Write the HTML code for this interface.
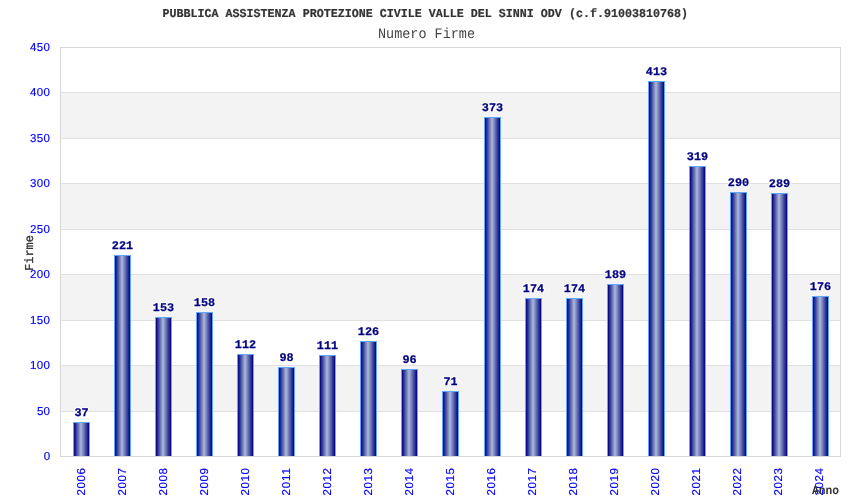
<!DOCTYPE html>
<html><head><meta charset="utf-8">
<style>
html,body{margin:0;padding:0;background:#fff;width:850px;height:500px;overflow:hidden}
svg{display:block;will-change:transform}
text{text-rendering:geometricPrecision}
.mono{font-family:"Liberation Mono",monospace}
.sans{font-family:"Liberation Sans",sans-serif}
</style></head><body>
<svg width="850" height="500" viewBox="0 0 850 500">
<defs>
<linearGradient id="g" x1="0" x2="1" y1="0" y2="0">
<stop offset="0" stop-color="#000080"/>
<stop offset="0.44" stop-color="#a0b0d2"/>
<stop offset="0.50" stop-color="#a0b0d2"/>
<stop offset="1" stop-color="#000080"/>
</linearGradient>
</defs>
<rect x="0" y="0" width="850" height="500" fill="#fff"/>

<rect x="61" y="93" width="779" height="45" fill="#f3f3f3"/>
<rect x="61" y="184" width="779" height="45" fill="#f3f3f3"/>
<rect x="61" y="275" width="779" height="45" fill="#f3f3f3"/>
<rect x="61" y="366" width="779" height="45" fill="#f3f3f3"/>
<rect x="61" y="92" width="779" height="1" fill="#e0e0e0"/>
<rect x="61" y="138" width="779" height="1" fill="#e0e0e0"/>
<rect x="61" y="183" width="779" height="1" fill="#e0e0e0"/>
<rect x="61" y="229" width="779" height="1" fill="#e0e0e0"/>
<rect x="61" y="274" width="779" height="1" fill="#e0e0e0"/>
<rect x="61" y="320" width="779" height="1" fill="#e0e0e0"/>
<rect x="61" y="365" width="779" height="1" fill="#e0e0e0"/>
<rect x="61" y="411" width="779" height="1" fill="#e0e0e0"/>
<rect x="60" y="47" width="781" height="1" fill="#d8d8d8"/>
<rect x="60" y="456" width="781" height="1" fill="#d8d8d8"/>
<rect x="60" y="47" width="1" height="410" fill="#d8d8d8"/>
<rect x="840" y="47" width="1" height="410" fill="#d8d8d8"/>
<text x="30.1" y="51" textLength="19.799999999999997" lengthAdjust="spacing" class="sans" font-size="11.5" fill="#0000ff" stroke="#0000ff" stroke-width="0.15">450</text>
<text x="30.1" y="96" textLength="19.799999999999997" lengthAdjust="spacing" class="sans" font-size="11.5" fill="#0000ff" stroke="#0000ff" stroke-width="0.15">400</text>
<text x="30.1" y="142" textLength="19.799999999999997" lengthAdjust="spacing" class="sans" font-size="11.5" fill="#0000ff" stroke="#0000ff" stroke-width="0.15">350</text>
<text x="30.1" y="187" textLength="19.799999999999997" lengthAdjust="spacing" class="sans" font-size="11.5" fill="#0000ff" stroke="#0000ff" stroke-width="0.15">300</text>
<text x="30.1" y="233" textLength="19.799999999999997" lengthAdjust="spacing" class="sans" font-size="11.5" fill="#0000ff" stroke="#0000ff" stroke-width="0.15">250</text>
<text x="30.1" y="278" textLength="19.799999999999997" lengthAdjust="spacing" class="sans" font-size="11.5" fill="#0000ff" stroke="#0000ff" stroke-width="0.15">200</text>
<text x="30.1" y="324" textLength="19.799999999999997" lengthAdjust="spacing" class="sans" font-size="11.5" fill="#0000ff" stroke="#0000ff" stroke-width="0.15">150</text>
<text x="30.1" y="369" textLength="19.799999999999997" lengthAdjust="spacing" class="sans" font-size="11.5" fill="#0000ff" stroke="#0000ff" stroke-width="0.15">100</text>
<text x="36.9" y="415" textLength="13.0" lengthAdjust="spacing" class="sans" font-size="11.5" fill="#0000ff" stroke="#0000ff" stroke-width="0.15">50</text>
<text x="43.7" y="460" textLength="6.2" lengthAdjust="spacing" class="sans" font-size="11.5" fill="#0000ff" stroke="#0000ff" stroke-width="0.15">0</text>
<rect x="73" y="422" width="17" height="34" fill="#5fa8ff"/>
<rect x="74" y="423" width="15" height="33" fill="url(#g)"/>
<text transform="translate(81.5,416) scale(1.02,1)" text-anchor="middle" class="mono" font-weight="bold" font-size="11.6" fill="#fff" stroke="#fff" stroke-width="2.2" stroke-linejoin="round">37</text>
<text transform="translate(81.5,416) scale(1.02,1)" text-anchor="middle" class="mono" font-weight="bold" font-size="11.6" fill="#000080" stroke="#000080" stroke-width="0.25">37</text>
<text transform="translate(85,495.5) rotate(-90)" textLength="27.5" lengthAdjust="spacing" class="sans" font-size="11.5" fill="#0000ff" stroke="#0000ff" stroke-width="0.15">2006</text>
<rect x="114" y="255" width="17" height="201" fill="#5fa8ff"/>
<rect x="115" y="256" width="15" height="200" fill="url(#g)"/>
<text transform="translate(122.5,249) scale(1.02,1)" text-anchor="middle" class="mono" font-weight="bold" font-size="11.6" fill="#fff" stroke="#fff" stroke-width="2.2" stroke-linejoin="round">221</text>
<text transform="translate(122.5,249) scale(1.02,1)" text-anchor="middle" class="mono" font-weight="bold" font-size="11.6" fill="#000080" stroke="#000080" stroke-width="0.25">221</text>
<text transform="translate(126,495.5) rotate(-90)" textLength="27.5" lengthAdjust="spacing" class="sans" font-size="11.5" fill="#0000ff" stroke="#0000ff" stroke-width="0.15">2007</text>
<rect x="155" y="317" width="17" height="139" fill="#5fa8ff"/>
<rect x="156" y="318" width="15" height="138" fill="url(#g)"/>
<text transform="translate(163.5,311) scale(1.02,1)" text-anchor="middle" class="mono" font-weight="bold" font-size="11.6" fill="#fff" stroke="#fff" stroke-width="2.2" stroke-linejoin="round">153</text>
<text transform="translate(163.5,311) scale(1.02,1)" text-anchor="middle" class="mono" font-weight="bold" font-size="11.6" fill="#000080" stroke="#000080" stroke-width="0.25">153</text>
<text transform="translate(167,495.5) rotate(-90)" textLength="27.5" lengthAdjust="spacing" class="sans" font-size="11.5" fill="#0000ff" stroke="#0000ff" stroke-width="0.15">2008</text>
<rect x="196" y="312" width="17" height="144" fill="#5fa8ff"/>
<rect x="197" y="313" width="15" height="143" fill="url(#g)"/>
<text transform="translate(204.5,306) scale(1.02,1)" text-anchor="middle" class="mono" font-weight="bold" font-size="11.6" fill="#fff" stroke="#fff" stroke-width="2.2" stroke-linejoin="round">158</text>
<text transform="translate(204.5,306) scale(1.02,1)" text-anchor="middle" class="mono" font-weight="bold" font-size="11.6" fill="#000080" stroke="#000080" stroke-width="0.25">158</text>
<text transform="translate(208,495.5) rotate(-90)" textLength="27.5" lengthAdjust="spacing" class="sans" font-size="11.5" fill="#0000ff" stroke="#0000ff" stroke-width="0.15">2009</text>
<rect x="237" y="354" width="17" height="102" fill="#5fa8ff"/>
<rect x="238" y="355" width="15" height="101" fill="url(#g)"/>
<text transform="translate(245.5,348) scale(1.02,1)" text-anchor="middle" class="mono" font-weight="bold" font-size="11.6" fill="#fff" stroke="#fff" stroke-width="2.2" stroke-linejoin="round">112</text>
<text transform="translate(245.5,348) scale(1.02,1)" text-anchor="middle" class="mono" font-weight="bold" font-size="11.6" fill="#000080" stroke="#000080" stroke-width="0.25">112</text>
<text transform="translate(249,495.5) rotate(-90)" textLength="27.5" lengthAdjust="spacing" class="sans" font-size="11.5" fill="#0000ff" stroke="#0000ff" stroke-width="0.15">2010</text>
<rect x="278" y="367" width="17" height="89" fill="#5fa8ff"/>
<rect x="279" y="368" width="15" height="88" fill="url(#g)"/>
<text transform="translate(286.5,361) scale(1.02,1)" text-anchor="middle" class="mono" font-weight="bold" font-size="11.6" fill="#fff" stroke="#fff" stroke-width="2.2" stroke-linejoin="round">98</text>
<text transform="translate(286.5,361) scale(1.02,1)" text-anchor="middle" class="mono" font-weight="bold" font-size="11.6" fill="#000080" stroke="#000080" stroke-width="0.25">98</text>
<text transform="translate(290,495.5) rotate(-90)" textLength="27.5" lengthAdjust="spacing" class="sans" font-size="11.5" fill="#0000ff" stroke="#0000ff" stroke-width="0.15">2011</text>
<rect x="319" y="355" width="17" height="101" fill="#5fa8ff"/>
<rect x="320" y="356" width="15" height="100" fill="url(#g)"/>
<text transform="translate(327.5,349) scale(1.02,1)" text-anchor="middle" class="mono" font-weight="bold" font-size="11.6" fill="#fff" stroke="#fff" stroke-width="2.2" stroke-linejoin="round">111</text>
<text transform="translate(327.5,349) scale(1.02,1)" text-anchor="middle" class="mono" font-weight="bold" font-size="11.6" fill="#000080" stroke="#000080" stroke-width="0.25">111</text>
<text transform="translate(331,495.5) rotate(-90)" textLength="27.5" lengthAdjust="spacing" class="sans" font-size="11.5" fill="#0000ff" stroke="#0000ff" stroke-width="0.15">2012</text>
<rect x="360" y="341" width="17" height="115" fill="#5fa8ff"/>
<rect x="361" y="342" width="15" height="114" fill="url(#g)"/>
<text transform="translate(368.5,335) scale(1.02,1)" text-anchor="middle" class="mono" font-weight="bold" font-size="11.6" fill="#fff" stroke="#fff" stroke-width="2.2" stroke-linejoin="round">126</text>
<text transform="translate(368.5,335) scale(1.02,1)" text-anchor="middle" class="mono" font-weight="bold" font-size="11.6" fill="#000080" stroke="#000080" stroke-width="0.25">126</text>
<text transform="translate(372,495.5) rotate(-90)" textLength="27.5" lengthAdjust="spacing" class="sans" font-size="11.5" fill="#0000ff" stroke="#0000ff" stroke-width="0.15">2013</text>
<rect x="401" y="369" width="17" height="87" fill="#5fa8ff"/>
<rect x="402" y="370" width="15" height="86" fill="url(#g)"/>
<text transform="translate(409.5,363) scale(1.02,1)" text-anchor="middle" class="mono" font-weight="bold" font-size="11.6" fill="#fff" stroke="#fff" stroke-width="2.2" stroke-linejoin="round">96</text>
<text transform="translate(409.5,363) scale(1.02,1)" text-anchor="middle" class="mono" font-weight="bold" font-size="11.6" fill="#000080" stroke="#000080" stroke-width="0.25">96</text>
<text transform="translate(413,495.5) rotate(-90)" textLength="27.5" lengthAdjust="spacing" class="sans" font-size="11.5" fill="#0000ff" stroke="#0000ff" stroke-width="0.15">2014</text>
<rect x="442" y="391" width="17" height="65" fill="#5fa8ff"/>
<rect x="443" y="392" width="15" height="64" fill="url(#g)"/>
<text transform="translate(450.5,385) scale(1.02,1)" text-anchor="middle" class="mono" font-weight="bold" font-size="11.6" fill="#fff" stroke="#fff" stroke-width="2.2" stroke-linejoin="round">71</text>
<text transform="translate(450.5,385) scale(1.02,1)" text-anchor="middle" class="mono" font-weight="bold" font-size="11.6" fill="#000080" stroke="#000080" stroke-width="0.25">71</text>
<text transform="translate(454,495.5) rotate(-90)" textLength="27.5" lengthAdjust="spacing" class="sans" font-size="11.5" fill="#0000ff" stroke="#0000ff" stroke-width="0.15">2015</text>
<rect x="484" y="117" width="17" height="339" fill="#5fa8ff"/>
<rect x="485" y="118" width="15" height="338" fill="url(#g)"/>
<text transform="translate(492.5,111) scale(1.02,1)" text-anchor="middle" class="mono" font-weight="bold" font-size="11.6" fill="#fff" stroke="#fff" stroke-width="2.2" stroke-linejoin="round">373</text>
<text transform="translate(492.5,111) scale(1.02,1)" text-anchor="middle" class="mono" font-weight="bold" font-size="11.6" fill="#000080" stroke="#000080" stroke-width="0.25">373</text>
<text transform="translate(495,495.5) rotate(-90)" textLength="27.5" lengthAdjust="spacing" class="sans" font-size="11.5" fill="#0000ff" stroke="#0000ff" stroke-width="0.15">2016</text>
<rect x="525" y="298" width="17" height="158" fill="#5fa8ff"/>
<rect x="526" y="299" width="15" height="157" fill="url(#g)"/>
<text transform="translate(533.5,292) scale(1.02,1)" text-anchor="middle" class="mono" font-weight="bold" font-size="11.6" fill="#fff" stroke="#fff" stroke-width="2.2" stroke-linejoin="round">174</text>
<text transform="translate(533.5,292) scale(1.02,1)" text-anchor="middle" class="mono" font-weight="bold" font-size="11.6" fill="#000080" stroke="#000080" stroke-width="0.25">174</text>
<text transform="translate(536,495.5) rotate(-90)" textLength="27.5" lengthAdjust="spacing" class="sans" font-size="11.5" fill="#0000ff" stroke="#0000ff" stroke-width="0.15">2017</text>
<rect x="566" y="298" width="17" height="158" fill="#5fa8ff"/>
<rect x="567" y="299" width="15" height="157" fill="url(#g)"/>
<text transform="translate(574.5,292) scale(1.02,1)" text-anchor="middle" class="mono" font-weight="bold" font-size="11.6" fill="#fff" stroke="#fff" stroke-width="2.2" stroke-linejoin="round">174</text>
<text transform="translate(574.5,292) scale(1.02,1)" text-anchor="middle" class="mono" font-weight="bold" font-size="11.6" fill="#000080" stroke="#000080" stroke-width="0.25">174</text>
<text transform="translate(577,495.5) rotate(-90)" textLength="27.5" lengthAdjust="spacing" class="sans" font-size="11.5" fill="#0000ff" stroke="#0000ff" stroke-width="0.15">2018</text>
<rect x="607" y="284" width="17" height="172" fill="#5fa8ff"/>
<rect x="608" y="285" width="15" height="171" fill="url(#g)"/>
<text transform="translate(615.5,278) scale(1.02,1)" text-anchor="middle" class="mono" font-weight="bold" font-size="11.6" fill="#fff" stroke="#fff" stroke-width="2.2" stroke-linejoin="round">189</text>
<text transform="translate(615.5,278) scale(1.02,1)" text-anchor="middle" class="mono" font-weight="bold" font-size="11.6" fill="#000080" stroke="#000080" stroke-width="0.25">189</text>
<text transform="translate(618,495.5) rotate(-90)" textLength="27.5" lengthAdjust="spacing" class="sans" font-size="11.5" fill="#0000ff" stroke="#0000ff" stroke-width="0.15">2019</text>
<rect x="648" y="81" width="17" height="375" fill="#5fa8ff"/>
<rect x="649" y="82" width="15" height="374" fill="url(#g)"/>
<text transform="translate(656.5,75) scale(1.02,1)" text-anchor="middle" class="mono" font-weight="bold" font-size="11.6" fill="#fff" stroke="#fff" stroke-width="2.2" stroke-linejoin="round">413</text>
<text transform="translate(656.5,75) scale(1.02,1)" text-anchor="middle" class="mono" font-weight="bold" font-size="11.6" fill="#000080" stroke="#000080" stroke-width="0.25">413</text>
<text transform="translate(659,495.5) rotate(-90)" textLength="27.5" lengthAdjust="spacing" class="sans" font-size="11.5" fill="#0000ff" stroke="#0000ff" stroke-width="0.15">2020</text>
<rect x="689" y="166" width="17" height="290" fill="#5fa8ff"/>
<rect x="690" y="167" width="15" height="289" fill="url(#g)"/>
<text transform="translate(697.5,160) scale(1.02,1)" text-anchor="middle" class="mono" font-weight="bold" font-size="11.6" fill="#fff" stroke="#fff" stroke-width="2.2" stroke-linejoin="round">319</text>
<text transform="translate(697.5,160) scale(1.02,1)" text-anchor="middle" class="mono" font-weight="bold" font-size="11.6" fill="#000080" stroke="#000080" stroke-width="0.25">319</text>
<text transform="translate(700,495.5) rotate(-90)" textLength="27.5" lengthAdjust="spacing" class="sans" font-size="11.5" fill="#0000ff" stroke="#0000ff" stroke-width="0.15">2021</text>
<rect x="730" y="192" width="17" height="264" fill="#5fa8ff"/>
<rect x="731" y="193" width="15" height="263" fill="url(#g)"/>
<text transform="translate(738.5,186) scale(1.02,1)" text-anchor="middle" class="mono" font-weight="bold" font-size="11.6" fill="#fff" stroke="#fff" stroke-width="2.2" stroke-linejoin="round">290</text>
<text transform="translate(738.5,186) scale(1.02,1)" text-anchor="middle" class="mono" font-weight="bold" font-size="11.6" fill="#000080" stroke="#000080" stroke-width="0.25">290</text>
<text transform="translate(741,495.5) rotate(-90)" textLength="27.5" lengthAdjust="spacing" class="sans" font-size="11.5" fill="#0000ff" stroke="#0000ff" stroke-width="0.15">2022</text>
<rect x="771" y="193" width="17" height="263" fill="#5fa8ff"/>
<rect x="772" y="194" width="15" height="262" fill="url(#g)"/>
<text transform="translate(779.5,187) scale(1.02,1)" text-anchor="middle" class="mono" font-weight="bold" font-size="11.6" fill="#fff" stroke="#fff" stroke-width="2.2" stroke-linejoin="round">289</text>
<text transform="translate(779.5,187) scale(1.02,1)" text-anchor="middle" class="mono" font-weight="bold" font-size="11.6" fill="#000080" stroke="#000080" stroke-width="0.25">289</text>
<text transform="translate(782,495.5) rotate(-90)" textLength="27.5" lengthAdjust="spacing" class="sans" font-size="11.5" fill="#0000ff" stroke="#0000ff" stroke-width="0.15">2023</text>
<rect x="812" y="296" width="17" height="160" fill="#5fa8ff"/>
<rect x="813" y="297" width="15" height="159" fill="url(#g)"/>
<text transform="translate(820.5,290) scale(1.02,1)" text-anchor="middle" class="mono" font-weight="bold" font-size="11.6" fill="#fff" stroke="#fff" stroke-width="2.2" stroke-linejoin="round">176</text>
<text transform="translate(820.5,290) scale(1.02,1)" text-anchor="middle" class="mono" font-weight="bold" font-size="11.6" fill="#000080" stroke="#000080" stroke-width="0.25">176</text>
<text transform="translate(823,495.5) rotate(-90)" textLength="27.5" lengthAdjust="spacing" class="sans" font-size="11.5" fill="#0000ff" stroke="#0000ff" stroke-width="0.15">2024</text>
<text x="162.5" y="17" textLength="525.5" lengthAdjust="spacingAndGlyphs" class="mono" font-weight="bold" font-size="12.0" fill="#333" stroke="#333" stroke-width="0.2">PUBBLICA ASSISTENZA PROTEZIONE CIVILE VALLE DEL SINNI ODV (c.f.91003810768)</text>
<text x="378" y="37.5" textLength="97" lengthAdjust="spacingAndGlyphs" class="mono" font-size="14.5" fill="#444">Numero Firme</text>
<text transform="translate(33,235) rotate(-90)" text-anchor="end" textLength="36" lengthAdjust="spacingAndGlyphs" class="mono" font-weight="normal" font-size="12" fill="#333" stroke="#333" stroke-width="0.35">Firme</text>
<text x="812" y="494" textLength="27" lengthAdjust="spacingAndGlyphs" class="mono" font-weight="bold" font-size="12" fill="#333">Anno</text>
</svg></body></html>
